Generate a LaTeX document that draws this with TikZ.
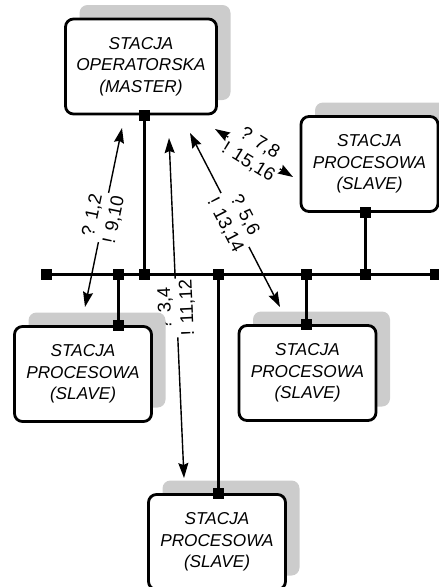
\documentclass[tikz,border=0pt]{standalone}
\usepackage{fontspec}
\setmainfont{Liberation Sans}
\usetikzlibrary{arrows.meta,shadows,backgrounds,positioning}
\definecolor{shadowgray}{HTML}{CCCCCC}

\begin{document}
\begin{tikzpicture}[x=1pt,y=-1pt,
  stn/.style={draw,line width=2.8pt,rounded corners=8pt,fill=white,
    minimum width=#1,minimum height=95pt,inner sep=0pt,align=center,
    font=\fontsize{17.2}{21.5}\selectfont\itshape,
    general shadow={draw=none,fill=shadowgray,shadow xshift=14pt,shadow yshift=14pt}},
  stn/.default=137pt,
  port/.style={fill=black,minimum size=11pt,inner sep=0pt},
  bus/.style={line width=3pt},
  msg/.style={line width=1.4pt,
    {Stealth[length=15pt,width=10pt,inset=2pt]}-{Stealth[length=15pt,width=10pt,inset=2pt]}},
  lbl/.style={fill=white,sloped,align=center,inner sep=1pt,
    font=\fontsize{18.5}{22}\selectfont},
]
  \path[use as bounding box,clip] (0,0) rectangle (439,587);

  % stations
  \node[stn=151pt] (master) at (141,66.5) {STACJA\\OPERATORSKA\\(MASTER)};
  \node[stn] (slaveR) at (369.5,164) {STACJA\\PROCESOWA\\(SLAVE)};
  \node[stn] (slaveL) at (83,374) {STACJA\\PROCESOWA\\(SLAVE)};
  \node[stn] (slaveM) at (307.5,373) {STACJA\\PROCESOWA\\(SLAVE)};
  \node[stn] (slaveB) at (217,542) {STACJA\\PROCESOWA\\(SLAVE)};

  % bus and taps
  \foreach \n/\x in {bL/46,tL/118,tM/144,tB/218,tC/306,tR/365,bR/435}
    \coordinate (\n) at (\x,274);
  \coordinate (pM) at (master.south -| tM);
  \coordinate (pR) at (slaveR.south -| tR);
  \coordinate (pL) at (slaveL.north -| tL);
  \coordinate (pC) at (slaveM.north -| tC);
  \coordinate (pB) at (slaveB.north -| tB);

  \draw[bus] (bL) -- (bR);
  \foreach \a/\b in {pM/tM,pR/tR,pL/tL,pC/tC,pB/tB}
    \draw[bus] (\a) -- (\b);
  \foreach \c in {bL,tL,tM,tB,tC,tR,bR,pM,pR,pL,pC,pB}
    \node[port] at (\c) {};

  % messages
  \begin{pgfonlayer}{background}
    \coordinate (m1) at (122,128); \coordinate (s1) at (85,307);
    \coordinate (m2) at (169,138); \coordinate (s2) at (184,478);
    \coordinate (m3) at (190,133); \coordinate (s3) at (280,307);
    \coordinate (m4) at (215,129); \coordinate (s4) at (293,177);
    \draw[msg] (m1) -- node[lbl] {? 1,2\\! 9,10} (s1);
    \draw[msg] (s2) -- node[lbl,allow upside down] {? 3,4\\! 11,12} (m2);
    \draw[msg] (m3) -- node[lbl] {? 5,6\\! 13,14} (s3);
    \draw[msg] (m4) -- node[lbl] {? 7,8\\! 15,16} (s4);
  \end{pgfonlayer}
\end{tikzpicture}
\end{document}
